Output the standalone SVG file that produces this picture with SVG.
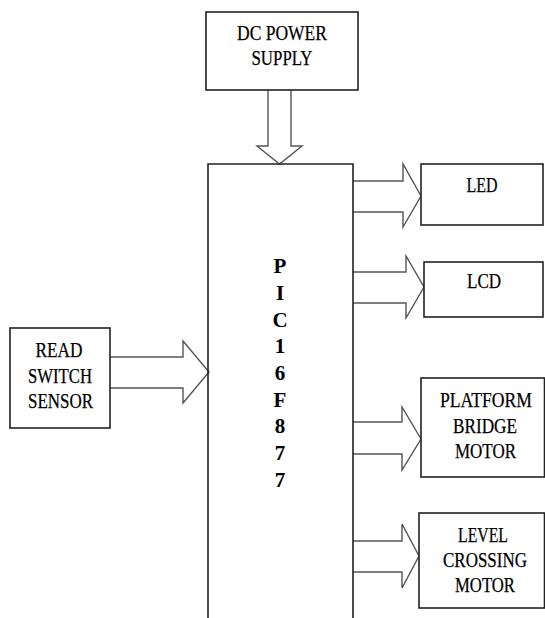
<svg xmlns="http://www.w3.org/2000/svg" width="545" height="618" viewBox="0 0 545 618">
<style>
.box{fill:#fff;stroke:#222;stroke-width:1.6}
.arr{fill:#fff;stroke:#555;stroke-width:1.4;stroke-linejoin:miter}
.t{font-family:"Liberation Serif","Times New Roman",serif;font-size:21px;fill:#000;text-anchor:middle;stroke:#000;stroke-width:0.25}
.p{font-family:"Liberation Serif","Times New Roman",serif;font-size:21px;font-weight:bold;fill:#000;text-anchor:middle}
</style>
<rect width="545" height="618" fill="#fff"/>
<g id="connectors">
<path class="arr" d="M268,90 V146 H257 L279.5,164 L302,146 H291 V90"/>
<path class="arr" d="M353,181 H403 V164 L421,196 L403,227 V212 H353"/>
<path class="arr" d="M353,272 H406 V256 L424,287 L406,318 V303 H353"/>
<path class="arr" d="M110,357 H183 V341 L209,372 L183,403 V388 H110"/>
<path class="arr" d="M353,422 H402 V407 L421,439 L402,470 V454 H353"/>
<path class="arr" d="M353,541 H402 V524 L419,556 L402,588 V572 H353"/>
</g>
<g id="pic">
<path d="M208,619 V164 H353 V619" fill="none" stroke="#222" stroke-width="1.6"/>
<text class="p" x="280" y="273">P</text>
<text class="p" x="280" y="300">I</text>
<text class="p" x="280" y="327">C</text>
<text class="p" x="280" y="353">1</text>
<text class="p" x="280" y="380">6</text>
<text class="p" x="280" y="407">F</text>
<text class="p" x="280" y="433">8</text>
<text class="p" x="280" y="460">7</text>
<text class="p" x="280" y="487">7</text>
</g>
<g id="dc-power">
<rect class="box" x="206" y="12" width="152" height="78"/>
<text class="t" x="282" y="40" textLength="90" lengthAdjust="spacingAndGlyphs">DC POWER</text>
<text class="t" x="282" y="65" textLength="61" lengthAdjust="spacingAndGlyphs">SUPPLY</text>
</g>
<g id="led">
<rect class="box" x="421" y="164" width="122" height="61"/>
<text class="t" x="482" y="192" textLength="31" lengthAdjust="spacingAndGlyphs">LED</text>
</g>
<g id="lcd">
<rect class="box" x="424" y="262" width="119" height="55"/>
<text class="t" x="484" y="288" textLength="34" lengthAdjust="spacingAndGlyphs">LCD</text>
</g>
<g id="read-switch">
<rect class="box" x="10" y="328" width="100" height="100"/>
<text class="t" x="59" y="357" textLength="47" lengthAdjust="spacingAndGlyphs">READ</text>
<text class="t" x="60" y="383" textLength="64" lengthAdjust="spacingAndGlyphs">SWITCH</text>
<text class="t" x="60.5" y="408" textLength="65" lengthAdjust="spacingAndGlyphs">SENSOR</text>
</g>
<g id="platform">
<rect class="box" x="421" y="378" width="123.5" height="99"/>
<text class="t" x="486" y="407" textLength="92" lengthAdjust="spacingAndGlyphs">PLATFORM</text>
<text class="t" x="485" y="433" textLength="64" lengthAdjust="spacingAndGlyphs">BRIDGE</text>
<text class="t" x="485.5" y="458" textLength="61" lengthAdjust="spacingAndGlyphs">MOTOR</text>
</g>
<g id="level-crossing">
<rect class="box" x="419" y="513" width="125.5" height="95"/>
<text class="t" x="483" y="542" textLength="50" lengthAdjust="spacingAndGlyphs">LEVEL</text>
<text class="t" x="485" y="567" textLength="84" lengthAdjust="spacingAndGlyphs">CROSSING</text>
<text class="t" x="485" y="592" textLength="60" lengthAdjust="spacingAndGlyphs">MOTOR</text>
</g>
</svg>
